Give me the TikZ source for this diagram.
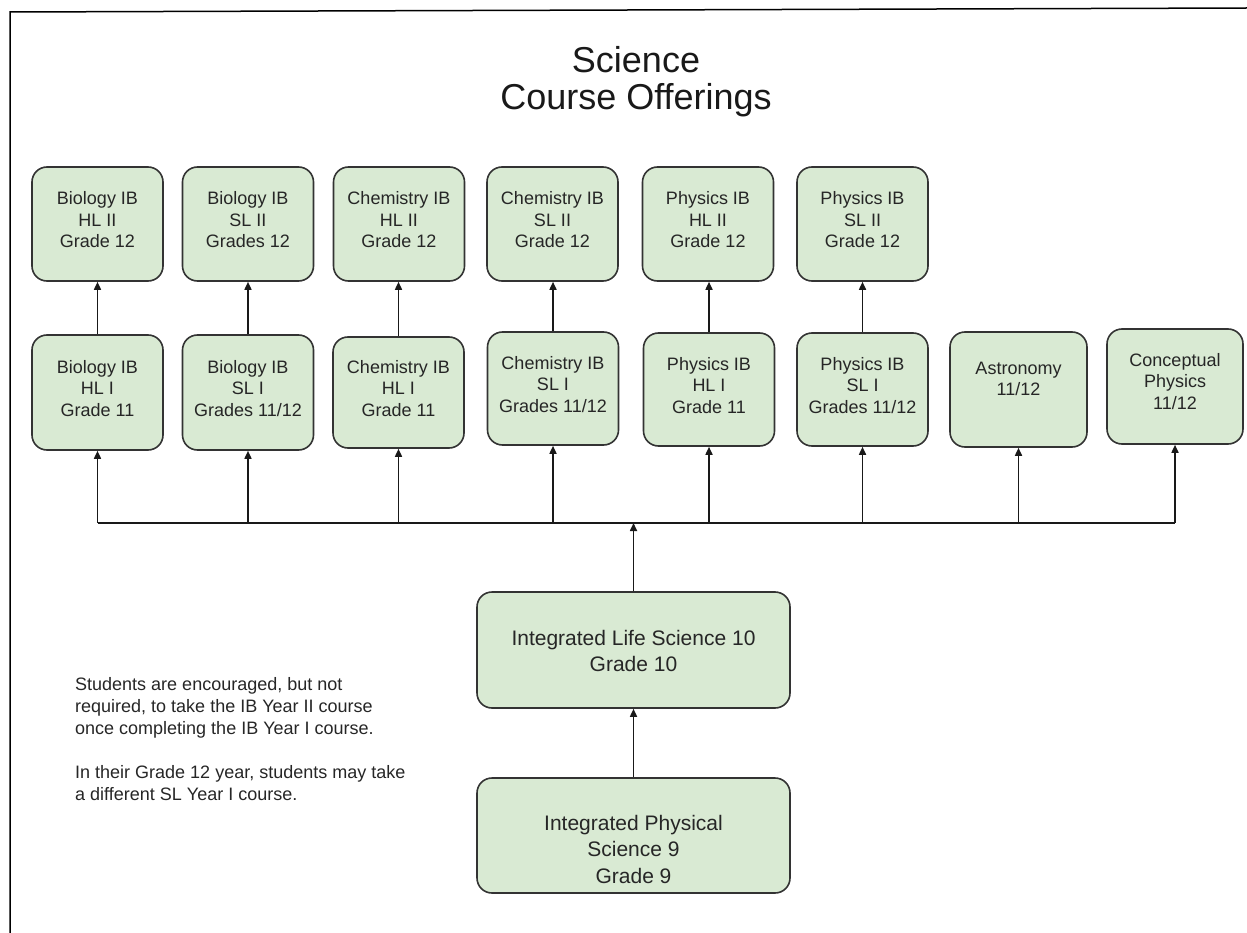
\documentclass[tikz,border=0pt]{standalone}
\usepackage{fontspec}
\setmainfont{Liberation Sans}
\usetikzlibrary{arrows.meta}
\definecolor{boxfill}{HTML}{D9EAD3}
\definecolor{boxline}{HTML}{333333}
\definecolor{txt}{HTML}{262626}
\newcommand\liftlines[2]{\raisebox{#1}[\height][\depth]{\begin{tabular}{@{}c@{}}#2\end{tabular}}}
\begin{document}
\begin{tikzpicture}[x=1pt,y=-1pt,
  course/.style={draw=boxline, line width=1.6pt, fill=boxfill, rounded corners=15pt,
    text=txt, font=\fontsize{18}{21.5}\selectfont, inner sep=2pt,
    minimum width=131pt, minimum height=114pt},
  bigcourse/.style={course, font=\fontsize{21}{26.5}\selectfont,
    minimum width=313pt, minimum height=116pt},
  arr/.style={draw=black!90, line width=1.6pt, -{Triangle[length=8pt,width=7pt]}},
  link/.style={draw=black!90, line width=1.6pt},
  note/.style={anchor=base west, inner sep=0pt, text=txt, font=\fontsize{18}{22}\selectfont},
  titletext/.style={anchor=base, inner sep=0pt, text=black!90, font=\fontsize{36}{37}\selectfont},
]
\useasboundingbox (0,0) rectangle (1247,933);

% frame (cropped screenshot edges)
\coordinate (fb) at (10,933);
\coordinate (ftl) at (10,12);
\coordinate (ftr) at (1247,8);
\draw[line width=1.5pt] (fb) -- (ftl) -- (ftr);

% title
\node[titletext] (t1) at (636,73) {Science};
\node[titletext] (t2) at (636,110) {Course Offerings};

% Year II row
\node[course] (bhl2) at (97.5,224) {\liftlines{2pt}{Biology IB\\HL II\\Grade 12}};
\node[course] (bsl2) at (248,224) {\liftlines{2pt}{Biology IB\\SL II\\Grades 12}};
\node[course] (chl2) at (399,224) {\liftlines{2pt}{Chemistry IB\\HL II\\Grade 12}};
\node[course] (csl2) at (552.5,224) {\liftlines{2pt}{Chemistry IB\\SL II\\Grade 12}};
\node[course] (phl2) at (708,224) {\liftlines{2pt}{Physics IB\\HL II\\Grade 12}};
\node[course] (psl2) at (862.5,224) {\liftlines{2pt}{Physics IB\\SL II\\Grade 12}};

% Year I row
\node[course, minimum height=115pt] (bhl1) at (97.5,392.5) {\liftlines{2pt}{Biology IB\\HL I\\Grade 11}};
\node[course, minimum height=115pt] (bsl1) at (248,392.5) {\liftlines{2pt}{Biology IB\\SL I\\Grades 11/12}};
\node[course, minimum height=111pt] (chl1) at (398.5,392.5) {\liftlines{2pt}{Chemistry IB\\HL I\\Grade 11}};
\node[course, minimum height=113pt] (csl1) at (553,388.5) {\liftlines{2pt}{Chemistry IB\\SL I\\Grades 11/12}};
\node[course, minimum height=113pt] (phl1) at (709,389.5) {\liftlines{2pt}{Physics IB\\HL I\\Grade 11}};
\node[course, minimum height=113pt] (psl1) at (862.5,389.5) {\liftlines{2pt}{Physics IB\\SL I\\Grades 11/12}};
\node[course, minimum width=137pt, minimum height=115pt] (astro) at (1018.5,389.5) {\liftlines{9pt}{Astronomy\\11/12}};
\node[course, minimum width=136pt, minimum height=115pt] (conc) at (1175,386.5) {\liftlines{3pt}{Conceptual\\Physics\\11/12}};

% lower grades
\node[bigcourse] (ils) at (633.5,650) {\liftlines{-3pt}{Integrated Life Science 10\\Grade 10}};
\node[bigcourse, minimum height=115pt] (ips) at (633.5,835.5) {\liftlines{-16pt}{Integrated Physical\\Science 9\\Grade 9}};

% Year I -> Year II
\foreach \a/\b in {bhl1/bhl2, bsl1/bsl2, chl1/chl2, csl1/csl2, phl1/phl2, psl1/psl2}
  \draw[arr] (\a.north) -- (\a.north |- \b.south);

% distribution bus
\coordinate (bus) at (0,523);
\draw[link] (bhl1.south |- bus) -- (conc.south |- bus);
\foreach \n in {bhl1, bsl1, chl1, csl1, phl1, psl1, astro, conc}
  \draw[arr] (\n.south |- bus) -- (\n.south);
\draw[arr] (ils.north) -- (ils.north |- bus);
\draw[arr] (ips.north) -- (ils.south);

% notes
\node[note] (n1) at (75,690) {Students are encouraged, but not};
\node[note] (n2) at (75,712) {required, to take the IB Year II course};
\node[note] (n3) at (75,734) {once completing the IB Year I course.};
\node[note] (n4) at (75,778) {In their Grade 12 year, students may take};
\node[note] (n5) at (75,800) {a different SL Year I course.};
\end{tikzpicture}
\end{document}
